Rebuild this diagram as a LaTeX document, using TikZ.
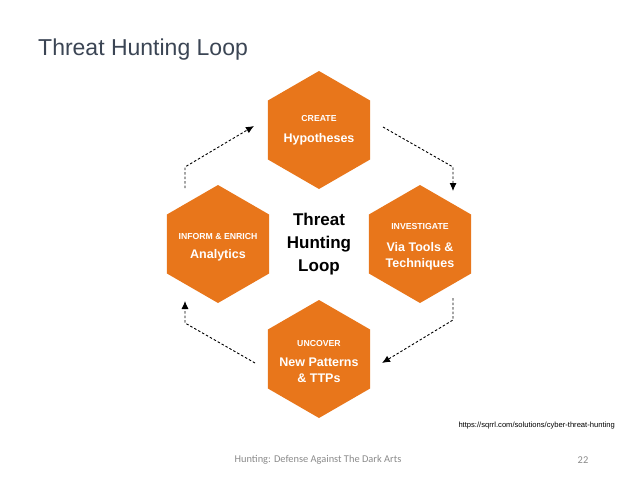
\documentclass[tikz,border=0pt]{standalone}
\usepackage{fontspec}
\setmainfont{Liberation Sans}
\newfontfamily\footfont{Carlito}
\usetikzlibrary{positioning,shapes.geometric,arrows.meta}

\definecolor{hexorange}{HTML}{E8761B}
\definecolor{titlegray}{HTML}{3B4554}
\definecolor{footgray}{HTML}{8A8A8A}

\newcommand\hexsmall{\fontsize{8.7}{10}\selectfont}
\newcommand\hexbig{\fontsize{12.5}{16}\selectfont}

\tikzset{
  hexa/.style={regular polygon, regular polygon sides=6, shape border rotate=30,
    fill=hexorange, draw=none, minimum size=118pt, inner sep=0pt},
  hextext/.style={text=white, align=center, font=\bfseries, inner sep=0pt},
  looparrow/.style={line width=0.9pt, dash pattern=on 2.5pt off 2pt,
    -{Latex[length=8pt,width=7pt]}}
}

\begin{document}
\begin{tikzpicture}[x=1pt, y=-1pt]
\useasboundingbox (0,0) rectangle (638,479);

\def\xl{218}
\def\xm{319}
\def\xr{420}
\def\ya{130}
\def\yb{244}
\def\yc{359}

% hexagons
\node[hexa] (create) at (\xm, \ya) {};
\node[hexa] (investigate) at (\xr, \yb) {};
\node[hexa] (uncover) at (\xm, \yc) {};
\node[hexa] (inform) at (\xl, \yb) {};

\node[hextext] (createtxt) at (\xm, 130) {\hexsmall CREATE\\[9pt] \hexbig Hypotheses};
\node[hextext] (investigatetxt) at (\xr, 247) {\hexsmall INVESTIGATE\\[10pt] \hexbig Via Tools \&\\[4pt] \hexbig Techniques};
\node[hextext] (uncovertxt) at (\xm, 361.5) {\hexsmall UNCOVER\\[8pt] \hexbig New Patterns\\[4pt] \hexbig \& TTPs};
\node[hextext] (informtxt) at (\xl, 247.5) {\hexsmall INFORM \& ENRICH\\[7pt] \hexbig Analytics};

% centre
\node[align=center, font=\bfseries\fontsize{17}{23}\selectfont] (loop) at (\xm, \yb)
  {Threat\\ Hunting\\ Loop};

% arrows
\coordinate (a1) at (383, 127);
\coordinate (a2) at (453, 167);
\coordinate (a3) at (453, 191);
\coordinate (b1) at (453, 298);
\coordinate (b2) at (453, 320);
\coordinate (b3) at (382, 363);
\coordinate (c1) at (255, 363);
\coordinate (c2) at (185, 323);
\coordinate (c3) at (185, 301);
\coordinate (d1) at (185, 188);
\coordinate (d2) at (185, 167);
\coordinate (d3) at (254, 126);
\draw[looparrow] (a1) -- (a2) -- (a3);
\draw[looparrow] (b1) -- (b2) -- (b3);
\draw[looparrow] (c1) -- (c2) -- (c3);
\draw[looparrow] (d1) -- (d2) -- (d3);

% title and footer
\node[anchor=west, text=titlegray, font=\fontsize{23}{27}\selectfont, inner sep=0pt] (title) at (38, 50)
  {Threat Hunting Loop};
\node[anchor=east, font=\fontsize{7.6}{9}\selectfont, inner sep=0pt] (url) at (615, 426)
  {https://sqrrl.com/solutions/cyber-threat-hunting};
\node[text=footgray, font=\footfont\fontsize{10.4}{12}\selectfont, inner sep=0pt] (footer) at (318, 460)
  {Hunting: Defense Against The Dark Arts};
\node[text=footgray, font=\footfont\fontsize{10.4}{12}\selectfont, inner sep=0pt] (page) at (583, 460)
  {22};
\end{tikzpicture}
\end{document}
